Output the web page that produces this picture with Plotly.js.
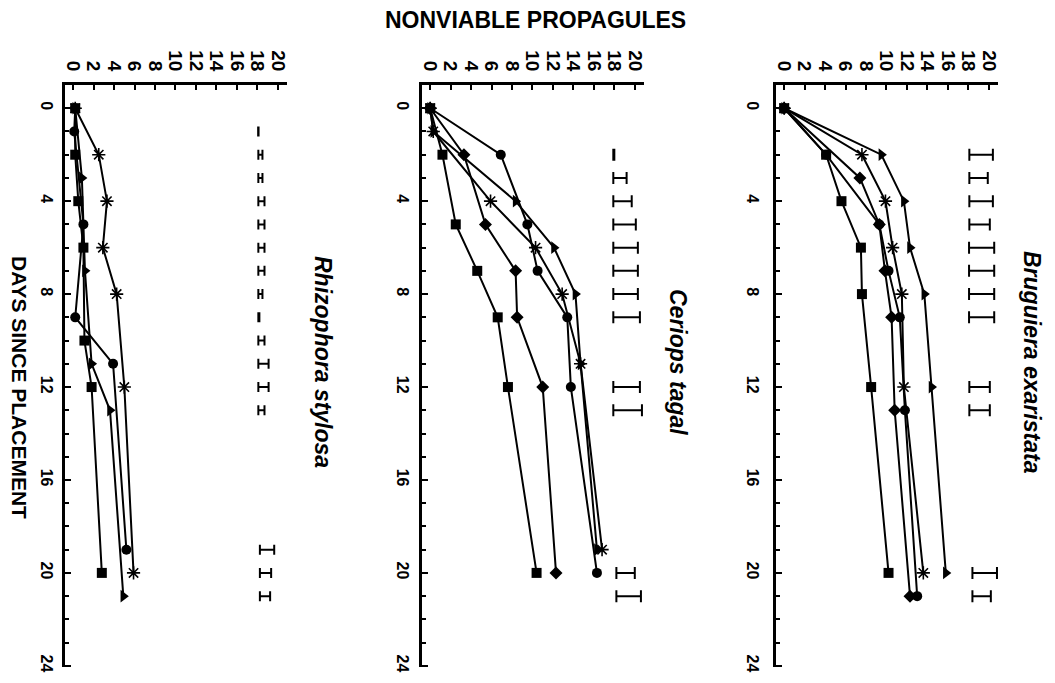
<!DOCTYPE html>
<html>
<head>
<meta charset="utf-8">
<script src="https://cdn.plot.ly/plotly-3.0.1.min.js"></script>
<style>html,body{margin:0;padding:0;background:#fff;}#chart{width:1055px;height:683px;}</style>
</head>
<body>
<div id="chart"></div>
<script>
// ---- Data (days since placement, number of nonviable propagules) ----
// Bruguiera exaristata
const brSquareDays = [0, 2, 4, 6, 8, 12, 20];
const brSquareVals = [0, 4.1, 5.6, 7.5, 7.6, 8.5, 10.2];
const brStarDays = [0, 2, 4, 6, 8, 12, 20];
const brStarVals = [0, 7.6, 9.9, 10.6, 11.5, 11.7, 13.6];
const brTriDays = [0, 2, 4, 6, 8, 12, 20];
const brTriVals = [0, 9.5, 11.7, 12.3, 13.7, 14.4, 15.8];
const brDiaDays = [0, 3, 5, 7, 9, 13, 21];
const brDiaVals = [0, 7.4, 9.3, 9.85, 10.5, 10.8, 12.3];
const brCircDays = [0, 2, 5, 7, 9, 13, 21];
const brCircVals = [0, 4.1, 9.3, 10.2, 11.3, 11.8, 13.0];
const brErrDays = [2, 3, 4, 5, 6, 7, 8, 9, 12, 13, 20, 21];
const brErrCenter = [19.25, 19.0, 19.25, 19.1, 19.3, 19.3, 19.3, 19.3, 19.1, 19.1, 19.6, 19.3];
const brErrHalf = [1.15, 0.9, 1.15, 1.0, 1.23, 1.23, 1.23, 1.23, 1.0, 1.0, 1.2, 0.9];

// Ceriops tagal
const ceCircDays = [0, 2, 5, 7, 9, 12, 20];
const ceCircVals = [0, 6.9, 9.5, 10.5, 13.4, 13.75, 16.3];
const ceSquareDays = [0, 2, 5, 7, 9, 12, 20];
const ceSquareVals = [0, 1.2, 2.5, 4.6, 6.6, 7.6, 10.4];
const ceDiaDays = [0, 2, 5, 7, 9, 12, 20];
const ceDiaVals = [0, 3.3, 5.4, 8.35, 8.5, 11.0, 12.3];
const ceStarDays = [0, 1, 4, 6, 8, 11, 19];
const ceStarVals = [0, 0.3, 5.9, 10.3, 12.9, 14.7, 16.8];
const ceTriDays = [0, 1, 4, 6, 8, 11, 19];
const ceTriVals = [0, 0.3, 8.35, 12.1, 14.2, 14.7, 16.3];
const ceErrDays = [2, 3, 4, 5, 6, 7, 8, 9, 12, 13, 20, 21];
const ceErrCenter = [17.95, 18.55, 18.8, 19.0, 19.1, 19.1, 19.1, 19.2, 19.2, 19.3, 19.1, 19.4];
const ceErrHalf = [0.05, 0.65, 0.9, 1.1, 1.2, 1.2, 1.2, 1.3, 1.3, 1.4, 0.9, 1.2];

// Rhizophora stylosa
const rhStarDays = [0, 2, 4, 6, 8, 12, 20];
const rhStarVals = [0.2, 2.5, 3.3, 2.9, 4.25, 5.0, 5.9];
const rhSquareDays = [0, 2, 4, 6, 10, 12, 20];
const rhSquareVals = [0.2, 0.2, 0.5, 1.0, 1.1, 1.8, 2.8];
const rhCircDays = [0, 1, 5, 9, 11, 19];
const rhCircVals = [0.2, 0.1, 1.0, 0.2, 3.9, 5.2];
const rhTriDays = [0, 3, 7, 11, 13, 21];
const rhTriVals = [0.2, 0.85, 1.15, 1.8, 3.6, 4.9];
const rhErrDays = [1, 2, 3, 4, 5, 6, 7, 8, 9, 10, 11, 12, 13, 19, 20, 21];
const rhErrCenter = [18.1, 18.3, 18.3, 18.4, 18.4, 18.4, 18.4, 18.3, 18.15, 18.4, 18.6, 18.6, 18.4, 18.95, 18.8, 18.75];
const rhErrHalf = [0.02, 0.2, 0.2, 0.3, 0.3, 0.3, 0.3, 0.2, 0.05, 0.3, 0.5, 0.5, 0.3, 0.7, 0.55, 0.5];

const valueTicks = [0, 2, 4, 6, 8, 10, 12, 14, 16, 18, 20];
const dayTicks = [0, 4, 8, 12, 16, 20, 24];
const panelTitles = ['Rhizophora stylosa', 'Ceriops tagal', 'Bruguiera exaristata'];
const valueTitle = 'NONVIABLE PROPAGULES';
const dayTitle = 'DAYS SINCE PLACEMENT';

// ---- Styling ----
const W = 1055, H = 683;
const FONT = 'Liberation Sans, Arial, Helvetica, sans-serif';
const lineStyle = {color: '#000', width: 2};
const sym = {
  square: {symbol: 'square', size: 10, color: '#000'},
  circle: {symbol: 'circle', size: 10, color: '#000'},
  diamond: {symbol: 'diamond', size: 10, color: '#000'},
  tri: {symbol: 'triangle-right', size: 11, color: '#000'},
  star: {symbol: 'asterisk-open', size: 11, color: '#000', line: {color: '#000', width: 1.6}}
};

function series(days, vals, m, ax) {
  return {x: vals, y: days, mode: 'lines+markers', type: 'scatter',
    line: lineStyle, marker: m, xaxis: 'x' + ax, yaxis: 'y' + ax,
    hoverinfo: 'skip', showlegend: false, cliponaxis: false};
}
function errs(days, center, half, ax, capw) {
  return {x: center, y: days, mode: 'markers', type: 'scatter',
    marker: {size: 1, color: 'rgba(0,0,0,0)'},
    error_x: {type: 'data', symmetric: true, array: half, color: '#000', thickness: 2, width: capw},
    xaxis: 'x' + ax, yaxis: 'y' + ax, hoverinfo: 'skip', showlegend: false};
}

const traces = [
  // panel 1 (left): Rhizophora
  series(rhSquareDays, rhSquareVals, sym.square, ''),
  series(rhCircDays, rhCircVals, sym.circle, ''),
  series(rhTriDays, rhTriVals, sym.tri, ''),
  series(rhStarDays, rhStarVals, sym.star, ''),
  errs(rhErrDays, rhErrCenter, rhErrHalf, '', 5),
  // panel 2 (middle): Ceriops
  series(ceSquareDays, ceSquareVals, sym.square, '2'),
  series(ceDiaDays, ceDiaVals, sym.diamond, '2'),
  series(ceCircDays, ceCircVals, sym.circle, '2'),
  series(ceStarDays, ceStarVals, sym.star, '2'),
  series(ceTriDays, ceTriVals, sym.tri, '2'),
  errs(ceErrDays, ceErrCenter, ceErrHalf, '2', 6),
  // panel 3 (right): Bruguiera
  series(brSquareDays, brSquareVals, sym.square, '3'),
  series(brDiaDays, brDiaVals, sym.diamond, '3'),
  series(brCircDays, brCircVals, sym.circle, '3'),
  series(brStarDays, brStarVals, sym.star, '3'),
  series(brTriDays, brTriVals, sym.tri, '3'),
  errs(brErrDays, brErrCenter, brErrHalf, '3', 6)
];

const px = v => v / W;
const py = v => 1 - v / H;
const panelsX = [[65, 287], [422, 644], [776, 998]];
const yStandoff = [2, 3, 7];
const yDom = [py(667), py(85)];

function xAxis(i) {
  return {domain: [px(panelsX[i][0]), px(panelsX[i][1])], range: [-0.8, 20.9],
    anchor: i === 0 ? 'y' : 'y' + (i + 1), side: 'top',
    showline: true, linecolor: '#000', linewidth: 3, showgrid: false, zeroline: false,
    tickvals: valueTicks, ticks: 'inside', ticklen: 5, tickwidth: 2, tickcolor: '#000',
    tickangle: 90, ticklabelstandoff: 4,
    tickfont: {family: FONT, size: 19, color: '#000', weight: 'bold'}, fixedrange: true};
}
function yAxis(i) {
  return {domain: yDom, range: [24.05, -1],
    anchor: i === 0 ? 'x' : 'x' + (i + 1), side: 'left',
    showline: true, linecolor: '#000', linewidth: 3, showgrid: false, zeroline: false,
    tickvals: dayTicks, ticks: 'inside', ticklen: 6, tickwidth: 2, tickcolor: '#000',
    minor: {dtick: 1, ticks: 'inside', ticklen: 4, tickwidth: 2, tickcolor: '#000', showgrid: false},
    tickangle: 90, ticklabelstandoff: yStandoff[i],
    tickfont: {family: FONT, size: 16, color: '#000', weight: 'bold'}, fixedrange: true};
}

const titleX = [323, 678, 1032];
const annotations = panelTitles.map((t, i) => ({
  text: t, xref: 'paper', yref: 'paper', x: px(titleX[i]), y: py(362),
  xanchor: 'center', yanchor: 'middle', textangle: 90, showarrow: false,
  font: {family: FONT, size: 23, color: '#000', style: 'italic', weight: 'bold'}
}));
annotations.push({text: valueTitle, xref: 'paper', yref: 'paper', x: px(535), y: py(20),
  xanchor: 'center', yanchor: 'middle', showarrow: false,
  font: {family: FONT, size: 23, color: '#000', weight: 'bold'}});
annotations.push({text: dayTitle, xref: 'paper', yref: 'paper', x: px(20), y: py(387),
  xanchor: 'center', yanchor: 'middle', textangle: 90, showarrow: false,
  font: {family: FONT, size: 21, color: '#000', weight: 'bold'}});

const layout = {
  width: W, height: H, margin: {l: 0, r: 0, t: 0, b: 0},
  paper_bgcolor: '#fff', plot_bgcolor: '#fff', showlegend: false,
  xaxis: xAxis(0), yaxis: yAxis(0),
  xaxis2: xAxis(1), yaxis2: yAxis(1),
  xaxis3: xAxis(2), yaxis3: yAxis(2),
  annotations: annotations
};

Plotly.newPlot('chart', traces, layout, {displayModeBar: false, staticPlot: true});
</script>
</body>
</html>
